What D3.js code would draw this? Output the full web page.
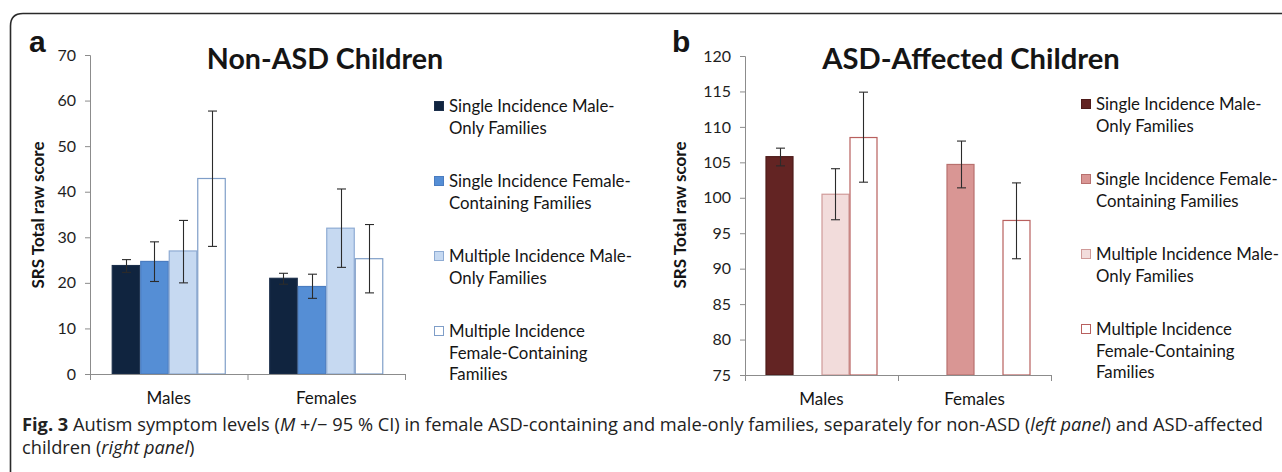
<!DOCTYPE html>
<html>
<head>
<meta charset="utf-8">
<script src="https://cdn.jsdelivr.net/npm/d3@7"></script>
<style>
  body { margin: 0; background: #fff; }
  svg text { fill: #151515; }
  .tick text { font-family: Lato, "Open Sans", sans-serif; font-size: 16px; fill: #1e1e1e; }
</style>
</head>
<body>
<div id="chart"></div>
<script>
// data
var groups = ["Males", "Females"];
var seriesNames = [
  ["Single Incidence Male-", "Only Families"],
  ["Single Incidence Female-", "Containing Families"],
  ["Multiple Incidence Male-", "Only Families"],
  ["Multiple Incidence", "Female-Containing", "Families"]
];

// panel a: non-ASD children, [Males, Females] per series
var nonAsdMean = [[23.8, 21.0], [24.7, 19.2], [27.0, 32.0], [42.9, 25.3]];
var nonAsdLo   = [[22.3, 19.7], [20.3, 16.6], [20.0, 23.4], [28.0, 17.8]];
var nonAsdHi   = [[25.1, 22.1], [29.0, 21.9], [33.7, 40.6], [57.7, 32.8]];
var nonAsdTicks = [0, 10, 20, 30, 40, 50, 60, 70];

// panel b: ASD-affected children (null = no bar)
var asdMean = [[105.8, null], [null, 104.7], [100.5, null], [108.5, 96.8]];
var asdLo   = [[104.5, null], [null, 101.4], [96.9, null], [102.2, 91.4]];
var asdHi   = [[107.0, null], [null, 108.0], [104.1, null], [114.9, 102.1]];
var asdTicks = [75, 80, 85, 90, 95, 100, 105, 110, 115, 120];

var blues = { fill: ["#10243f", "#558ed5", "#c6d9f1", "#ffffff"], stroke: ["#1c2f4b", "#4a7cc0", "#8eabd3", "#7f9ec8"] };
var reds  = { fill: ["#632423", "#d99694", "#f2dcdb", "#ffffff"], stroke: ["#4e1b1a", "#b8706e", "#cf9a98", "#b8605e"] };

var W = 1282, H = 472;
var svg = d3.select("#chart").append("svg").attr("width", W).attr("height", H);

// frame with rounded top-left corner
svg.append("path")
  .attr("d", "M10.5,472 L10.5,26 Q10.5,13.5 23,13.5 L1282,13.5")
  .attr("fill", "none").attr("stroke", "#2a2a2a").attr("stroke-width", 1.6);

function panel(opt) {
  var g = svg.append("g");
  var y = d3.scaleLinear().domain(opt.domain).range([opt.y0, opt.y1]);
  var x0 = d3.scaleBand().domain(groups).range([opt.xa, opt.xb]).paddingInner(opt.pad).paddingOuter(opt.pad / 2);
  var x1 = d3.scaleBand().domain(d3.range(4)).range([0, x0.bandwidth()]);

  // y axis
  var ya = g.append("g").attr("transform", "translate(" + opt.xa + ",0)")
    .call(d3.axisLeft(y).tickValues(opt.ticks).tickSize(5).tickPadding(9));
  ya.select(".domain").attr("stroke", "#8c8c8c");
  ya.selectAll(".tick line").attr("stroke", "#8c8c8c");

  // bars
  var cells = [];
  opt.mean.forEach(function(row, s) {
    row.forEach(function(v, c) {
      if (v != null) cells.push({ s: s, c: c, v: v, lo: opt.lo[s][c], hi: opt.hi[s][c] });
    });
  });
  g.selectAll("rect.bar").data(cells).enter().append("rect")
    .attr("class", "bar")
    .attr("x", function(d) { return x0(groups[d.c]) + x1(d.s) + 0.5; })
    .attr("width", x1.bandwidth() - 1)
    .attr("y", function(d) { return y(d.v); })
    .attr("height", function(d) { return opt.y0 - y(d.v); })
    .attr("fill", function(d) { return opt.colors.fill[d.s]; })
    .attr("stroke", function(d) { return opt.colors.stroke[d.s]; })
    .attr("stroke-width", 1.2);

  // error bars
  var eb = g.selectAll("g.err").data(cells).enter().append("g").attr("class", "err")
    .attr("stroke", "#2b2b2b").attr("stroke-width", 1.1);
  function cx(d) { return Math.round(x0(groups[d.c]) + x1(d.s) + x1.bandwidth() / 2) + 0.5; }
  eb.append("line").attr("x1", cx).attr("x2", cx)
    .attr("y1", function(d) { return y(d.lo); }).attr("y2", function(d) { return y(d.hi); });
  eb.append("line").attr("x1", function(d) { return cx(d) - 4.5; }).attr("x2", function(d) { return cx(d) + 4.5; })
    .attr("y1", function(d) { return y(d.lo); }).attr("y2", function(d) { return y(d.lo); });
  eb.append("line").attr("x1", function(d) { return cx(d) - 4.5; }).attr("x2", function(d) { return cx(d) + 4.5; })
    .attr("y1", function(d) { return y(d.hi); }).attr("y2", function(d) { return y(d.hi); });

  // x axis with ticks between categories
  var xs = d3.scaleLinear().domain([0, groups.length]).range([opt.xa, opt.xb]);
  var xa = g.append("g").attr("transform", "translate(0," + opt.y0 + ")")
    .call(d3.axisBottom(xs).tickValues(d3.range(groups.length + 1)).tickSize(6).tickFormat(""));
  xa.select(".domain").attr("stroke", "#8c8c8c");
  xa.selectAll(".tick line").attr("stroke", "#8c8c8c");

  g.selectAll("text.cat").data(groups).enter().append("text")
    .attr("class", "cat")
    .attr("x", function(d) { return x0(d) + x0.bandwidth() / 2; })
    .attr("y", opt.y0 + 30)
    .attr("text-anchor", "middle")
    .style("font-family", "Lato, sans-serif").style("font-size", "17px")
    .text(function(d) { return d; });

  // y label
  g.append("text")
    .attr("transform", "translate(" + opt.ylabX + ",215) rotate(-90)")
    .attr("text-anchor", "middle")
    .style("font-family", "Lato, sans-serif").style("font-size", "17px").style("font-weight", "bold")
    .text("SRS Total raw score");

  // title and panel letter
  g.append("text").attr("x", opt.titleX).attr("y", 69).attr("text-anchor", "middle")
    .style("font-family", "Lato, sans-serif").style("font-size", opt.titleSize + "px").style("font-weight", "bold")
    .text(opt.title);
  g.append("text").attr("x", opt.letterX).attr("y", 52)
    .style("font-family", "'Liberation Sans', Arial, sans-serif").style("font-size", "30px").style("font-weight", "bold")
    .text(opt.letter);

  // legend
  var leg = g.selectAll("g.leg").data(seriesNames).enter().append("g").attr("class", "leg")
    .attr("transform", function(d, i) { return "translate(" + opt.legX + "," + (opt.legY + i * 75) + ")"; });
  leg.append("rect").attr("x", 0.5).attr("y", -10.5).attr("width", 9).attr("height", 9)
    .attr("fill", function(d, i) { return opt.colors.fill[i]; })
    .attr("stroke", function(d, i) { return opt.colors.stroke[i]; });
  leg.append("text").attr("x", 15)
    .style("font-family", "Lato, sans-serif").style("font-size", "16.8px")
    .selectAll("tspan").data(function(d) { return d; }).enter().append("tspan")
    .attr("x", 15).attr("dy", function(d, i) { return i === 0 ? 0 : 21.5; })
    .text(function(d) { return d; });
}

panel({ domain: [0, 70], ticks: nonAsdTicks, y0: 374, y1: 55, xa: 90, xb: 405, pad: 0.276,
  mean: nonAsdMean, lo: nonAsdLo, hi: nonAsdHi, colors: blues, ylabX: 44,
  title: "Non-ASD Children", titleX: 325, titleSize: 28.6, letter: "a", letterX: 29, legX: 434, legY: 112 });

panel({ domain: [75, 120], ticks: asdTicks, y0: 375, y1: 56, xa: 745, xb: 1051, pad: 0.268,
  mean: asdMean, lo: asdLo, hi: asdHi, colors: reds, ylabX: 686,
  title: "ASD-Affected Children", titleX: 971, titleSize: 29.2, letter: "b", letterX: 672, legX: 1081, legY: 110 });

// caption
var line1 = [
  ["Fig. 3", "bold", "normal"], [" Autism symptom levels (", "normal", "normal"], ["M", "normal", "italic"],
  [" +/\u2212 95 % CI) in female ASD-containing and male-only families, separately for non-ASD (", "normal", "normal"],
  ["left panel", "normal", "italic"], [") and ASD-affected", "normal", "normal"]
];
var line2 = [["children (", "normal", "normal"], ["right panel", "normal", "italic"], [")", "normal", "normal"]];
var t1 = svg.append("text").attr("x", 22).attr("y", 431)
  .style("font-family", "'Open Sans', 'Noto Sans', sans-serif").style("font-size", "18px").style("fill", "#222");
line1.forEach(function(p) { t1.append("tspan").style("font-weight", p[1]).style("font-style", p[2]).text(p[0]); });
var t2 = svg.append("text").attr("x", 22).attr("y", 454)
  .style("font-family", "'Open Sans', 'Noto Sans', sans-serif").style("font-size", "18px").style("fill", "#222");
line2.forEach(function(p) { t2.append("tspan").style("font-weight", p[1]).style("font-style", p[2]).text(p[0]); });

// squeeze the first caption line to the width it takes in the figure, second line by the same factor
var full = t1.node().getComputedTextLength();
var target = 1263 - 22;
t1.attr("textLength", target).attr("lengthAdjust", "spacingAndGlyphs");
t2.attr("textLength", t2.node().getComputedTextLength() * target / full).attr("lengthAdjust", "spacingAndGlyphs");
</script>
</body>
</html>
